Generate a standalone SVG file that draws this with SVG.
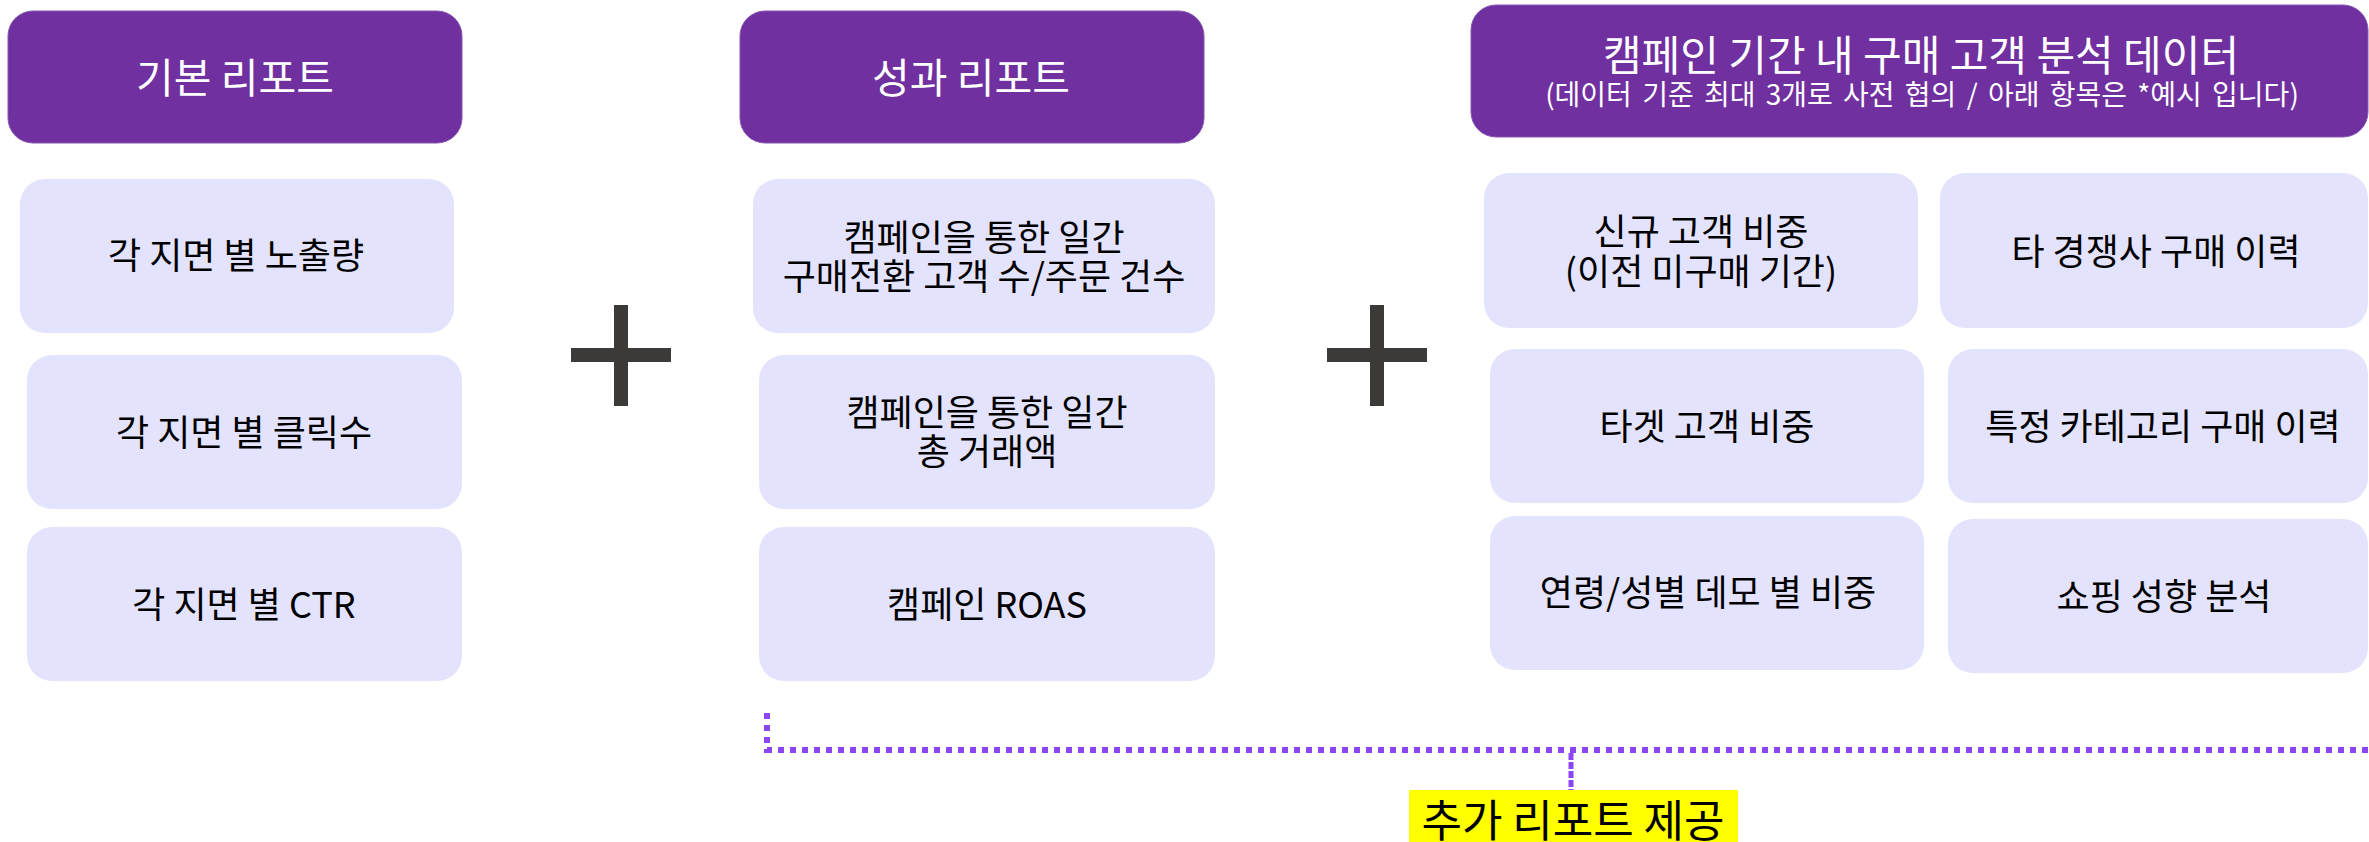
<svg xmlns="http://www.w3.org/2000/svg" width="2369" height="842" viewBox="0 0 2369 842">
<style>
.hdr{fill:#7030A0;stroke:#8657b0;stroke-width:1}
.item{fill:#E3E3FD}
.ht{font-family:"Noto Sans CJK KR","Noto Sans",sans-serif;fill:#FFFFFF;text-anchor:middle}
.it{font-family:"Noto Sans CJK KR","Noto Sans",sans-serif;fill:#000000;text-anchor:middle;font-size:36px}
.plus{fill:#3B3A38}
.dot{fill:none;stroke:#8B45F5;stroke-width:6;stroke-dasharray:6 6}
.dash{fill:none;stroke:#8B45F5;stroke-width:5;stroke-dasharray:7 2}
</style>
<rect width="2369" height="842" fill="#FFFFFF"/>
<g id="connectors">
<path class="dot" d="M767,713 V750 H2369"/>
<path class="dash" d="M1571,753 V790"/>
</g>
<g id="header-basic">
<rect class="hdr" x="8" y="11" width="454" height="132" rx="25"/>
<text class="ht" x="235" y="93" font-size="41">기본 리포트</text>
</g>
<g id="header-performance">
<rect class="hdr" x="740" y="11" width="464" height="132" rx="25"/>
<text class="ht" x="971" y="93" font-size="41">성과 리포트</text>
</g>
<g id="header-analysis">
<rect class="hdr" x="1471" y="5" width="897" height="132" rx="25"/>
<text class="ht" x="1921" y="71" font-size="42">캠페인 기간 내 구매 고객 분석 데이터</text>
<text class="ht" x="1922" y="105" font-size="28" word-spacing="4">(데이터 기준 최대 3개로 사전 협의 / 아래 항목은 *예시 입니다)</text>
</g>
<g id="a1">
<rect class="item" x="20" y="179" width="434" height="154" rx="25"/>
<text class="it" x="236" y="269">각 지면 별 노출량</text>
</g>
<g id="a2">
<rect class="item" x="27" y="355" width="435" height="154" rx="25"/>
<text class="it" x="244" y="446">각 지면 별 클릭수</text>
</g>
<g id="a3">
<rect class="item" x="27" y="527" width="435" height="154" rx="25"/>
<text class="it" x="244" y="618">각 지면 별 CTR</text>
</g>
<g id="plus1">
<rect class="plus" x="614" y="305" width="14" height="101"/>
<rect class="plus" x="571" y="348" width="100" height="14"/>
</g>
<g id="b1">
<rect class="item" x="753" y="179" width="462" height="154" rx="25"/>
<text class="it" x="984" y="251">캠페인을 통한 일간</text>
<text class="it" x="984" y="290">구매전환 고객 수/주문 건수</text>
</g>
<g id="b2">
<rect class="item" x="759" y="355" width="456" height="154" rx="25"/>
<text class="it" x="987" y="426">캠페인을 통한 일간</text>
<text class="it" x="987" y="465">총 거래액</text>
</g>
<g id="b3">
<rect class="item" x="759" y="527" width="456" height="154" rx="25"/>
<text class="it" x="987" y="618">캠페인 ROAS</text>
</g>
<g id="plus2">
<rect class="plus" x="1370" y="305" width="14" height="101"/>
<rect class="plus" x="1327" y="348" width="100" height="14"/>
</g>
<g id="c1">
<rect class="item" x="1484" y="173" width="434" height="155" rx="25"/>
<text class="it" x="1701" y="245">신규 고객 비중</text>
<text class="it" x="1701" y="285">(이전 미구매 기간)</text>
</g>
<g id="c2">
<rect class="item" x="1940" y="173" width="428" height="155" rx="25"/>
<text class="it" x="2156" y="265">타 경쟁사 구매 이력</text>
</g>
<g id="c3">
<rect class="item" x="1490" y="349" width="434" height="154" rx="25"/>
<text class="it" x="1707" y="440">타겟 고객 비중</text>
</g>
<g id="c4">
<rect class="item" x="1948" y="349" width="420" height="154" rx="25"/>
<text class="it" x="2163" y="440">특정 카테고리 구매 이력</text>
</g>
<g id="c5">
<rect class="item" x="1490" y="516" width="434" height="154" rx="25"/>
<text class="it" x="1708" y="606">연령/성별 데모 별 비중</text>
</g>
<g id="c6">
<rect class="item" x="1948" y="519" width="420" height="154" rx="25"/>
<text class="it" x="2164" y="610">쇼핑 성향 분석</text>
</g>
<g id="label-extra">
<rect x="1409" y="790" width="329" height="60" fill="#FFFF00"/>
<text x="1573" y="837" font-family="&quot;Noto Sans CJK KR&quot;,sans-serif" font-size="44" text-anchor="middle" fill="#000000">추가 리포트 제공</text>
</g>
</svg>
